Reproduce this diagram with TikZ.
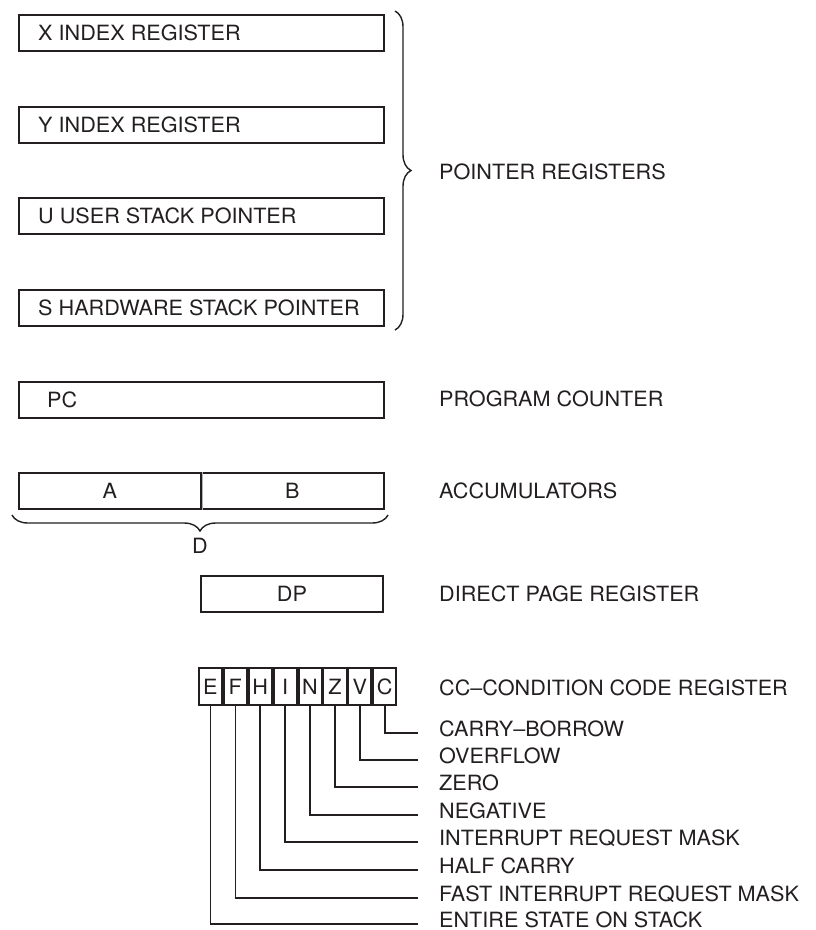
\documentclass[tikz,border=0pt]{standalone}
\usepackage{fontspec}
\setmainfont[FakeStretch=1.03]{TeX Gyre Heros}
\usetikzlibrary{decorations.pathreplacing}
\definecolor{ink}{HTML}{231F20}
\begin{document}
\begin{tikzpicture}[x=1pt,y=-1pt,
  every node/.style={font=\fontsize{21}{24}\selectfont, text=ink},
  regbox/.style={draw=ink, line width=1.9pt, minimum height=36pt, inner sep=0pt, anchor=north west},
  cell/.style={draw=ink, line width=1.9pt, minimum width=23pt, minimum height=37pt, inner sep=0pt},
  lbl/.style={anchor=base west, inner sep=0pt},
  lead/.style={draw=ink, line width=1.7pt},
  brc/.style={draw=ink, line width=1.4pt, decorate, decoration={brace, amplitude=16pt}}]
\useasboundingbox (0,0) rectangle (816,930);
% pointer registers
\node[regbox, minimum width=365pt] (X) at (18,14) {};
\node[regbox, minimum width=365pt] (Y) at (18,106) {};
\node[regbox, minimum width=365pt] (U) at (18,197) {};
\node[regbox, minimum width=365pt] (S) at (18,289) {};
\node[lbl] (Xt) at (38,40) {X INDEX REGISTER};
\node[lbl] (Yt) at (38,132) {Y INDEX REGISTER};
\node[lbl] (Ut) at (38,223) {U USER STACK POINTER};
\node[lbl] (St) at (38,315) {S HARDWARE STACK POINTER};
\coordinate (pbT) at (395,11);
\coordinate (pbB) at (395,330);
\draw[brc] (pbT) -- (pbB);
\node[lbl] (ptr) at (439,179) {POINTER REGISTERS};
% program counter
\node[regbox, minimum width=365pt] (PC) at (18,381) {};
\node[lbl] (PCt) at (47,407) {PC};
\node[lbl] (pct) at (439,406) {PROGRAM COUNTER};
% accumulators
\node[regbox, minimum width=182pt] (A) at (18,472) {A};
\node[regbox, minimum width=183pt] (B) at (200,472) {B};
\draw[gray!60, line width=0.6pt] (A.north east) -- (A.south east);
\node[lbl] (acc) at (439,498) {ACCUMULATORS};
\coordinate (dbR) at (388,515);
\coordinate (dbL) at (12,515);
\draw[brc] (dbR) -- (dbL);
\node[anchor=base, inner sep=0pt] (D) at (200,553) {D};
% direct page
\node[regbox, minimum width=182pt] (DP) at (200,575) {DP};
\node[lbl] (dpt) at (439,601) {DIRECT PAGE REGISTER};
% condition code register
\node[cell, anchor=north west] (E) at (198,667) {E};
\node[cell, anchor=west] (F) at (E.east) {F};
\node[cell, anchor=west] (H) at (F.east) {H};
\node[cell, anchor=west] (I) at (H.east) {I};
\node[cell, anchor=west] (N) at (I.east) {N};
\node[cell, anchor=west] (Z) at (N.east) {Z};
\node[cell, anchor=west] (V) at (Z.east) {V};
\node[cell, anchor=west] (C) at (V.east) {C};
\node[lbl] (cct) at (439,695) {CC–CONDITION CODE REGISTER};
\foreach \n/\y/\t in {C/733/CARRY–BORROW, V/760/OVERFLOW, Z/787/ZERO, N/815/NEGATIVE,
  I/842/INTERRUPT REQUEST MASK, H/870/HALF CARRY, F/898/FAST INTERRUPT REQUEST MASK,
  E/924/ENTIRE STATE ON STACK}{
  \coordinate (\n end) at (418,\y);
  \draw[lead] (\n.south) |- (\n end);
  \node[lbl] (\n lbl) at (439,\y+3) {\t};
}
\end{tikzpicture}
\end{document}
